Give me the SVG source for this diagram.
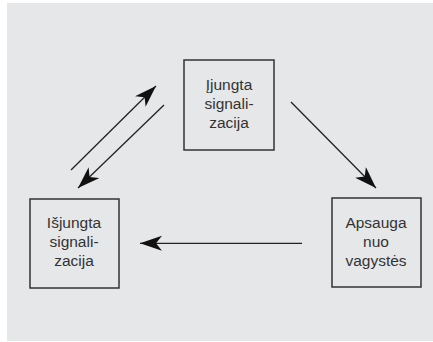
<svg xmlns="http://www.w3.org/2000/svg" width="433" height="342" viewBox="0 0 433 342">
<style>
.box{fill:#e6e7e8;stroke:#333;stroke-width:1.5}
.t{font-family:"Liberation Sans",Arial,sans-serif;font-size:15.5px;fill:#333;text-anchor:middle}
.c{stroke:#222;stroke-width:1.3;fill:none;marker-end:url(#ah)}
</style>
<defs>
<marker id="ah" markerUnits="userSpaceOnUse" markerWidth="24" markerHeight="16" refX="22" refY="7.5" orient="auto" viewBox="0 0 24 16">
<path d="M22,7.5 L0,0 L6,7.5 L0,15 Z" fill="#111"/>
</marker>
</defs>
<rect x="0" y="0" width="433" height="342" fill="#ffffff"/>
<rect x="7" y="3" width="426" height="338" fill="#e6e7e8"/>
<g id="node-on">
<rect class="box" x="184" y="60" width="90" height="90"/>
<text class="t" x="229" y="90">Įjungta</text>
<text class="t" x="229" y="109">signali-</text>
<text class="t" x="229" y="128">zacija</text>
</g>
<g id="node-off">
<rect class="box" x="30" y="199" width="89" height="89"/>
<text class="t" x="74" y="228">Išjungta</text>
<text class="t" x="74" y="247">signali-</text>
<text class="t" x="74" y="266">zacija</text>
</g>
<g id="node-guard">
<rect class="box" x="332" y="198" width="89" height="89"/>
<text class="t" x="376" y="228">Apsauga</text>
<text class="t" x="376" y="247">nuo</text>
<text class="t" x="376" y="266">vagystės</text>
</g>
<g id="connectors">
<line class="c" x1="71" y1="170" x2="156" y2="86"/>
<line class="c" x1="164" y1="105" x2="78" y2="188"/>
<line class="c" x1="291" y1="102" x2="376" y2="188"/>
<line class="c" x1="302" y1="243.3" x2="140" y2="243.3"/>
</g>
</svg>
